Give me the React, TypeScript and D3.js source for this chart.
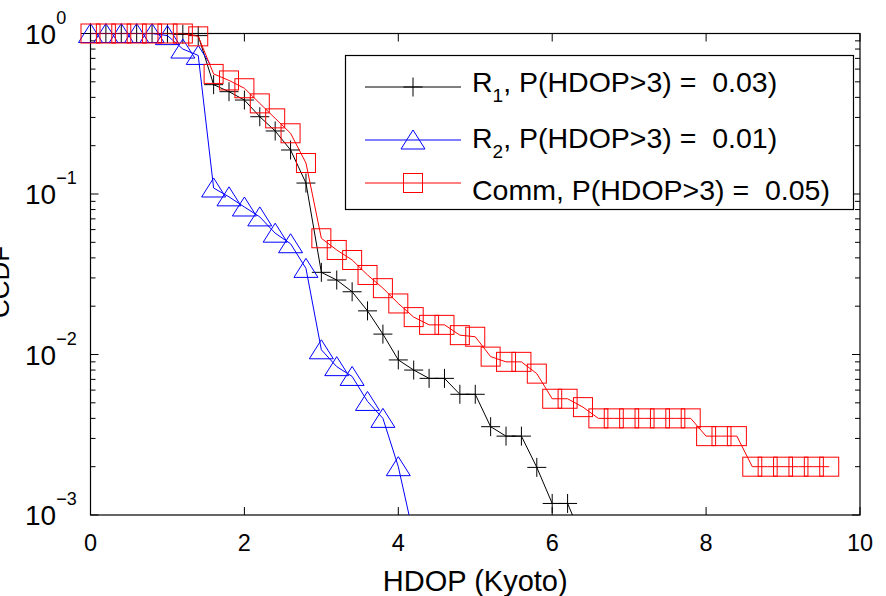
import React from 'react';
import * as d3 from 'd3';

const xR1 = [0, 0.2, 0.4, 0.6, 0.8, 1.0, 1.2, 1.4, 1.6, 1.8, 2.0, 2.2, 2.4, 2.6, 2.8, 3.0, 3.2, 3.4, 3.6, 3.8, 4.0, 4.2, 4.4, 4.6, 4.8, 5.0, 5.2, 5.4, 5.6, 5.8, 6.0, 6.2, 6.4];
const yR1 = [1, 1, 1, 1, 1, 1, 0.99, 0.97, 0.48, 0.434, 0.385, 0.303, 0.247, 0.188, 0.117, 0.0325, 0.0291, 0.0246, 0.0187, 0.0134, 0.00925, 0.008, 0.0071, 0.0071, 0.00565, 0.00565, 0.00355, 0.0031, 0.0031, 0.00198, 0.00118, 0.00118, 0.0007];

const xR2 = [0, 0.2, 0.4, 0.6, 0.8, 1.0, 1.2, 1.4, 1.6, 1.8, 2.0, 2.2, 2.4, 2.6, 2.8, 3.0, 3.2, 3.4, 3.6, 3.8, 4.0, 4.2];
const yR2 = [1, 1, 1, 1, 1, 0.97, 0.8, 0.73, 0.109, 0.096, 0.083, 0.072, 0.057, 0.049, 0.0344, 0.0107, 0.0084, 0.0073, 0.0051, 0.004, 0.002, 0.00074];

const xComm = [0, 0.2, 0.4, 0.6, 0.8, 1.0, 1.2, 1.4, 1.6, 1.8, 2.0, 2.2, 2.4, 2.6, 2.8, 3.0, 3.2, 3.4, 3.6, 3.8, 4.0, 4.2, 4.4, 4.6, 4.8, 5.0, 5.2, 5.4, 5.6, 5.8, 6.0, 6.2, 6.4, 6.6, 6.8, 7.0, 7.2, 7.4, 7.6, 7.8, 8.0, 8.2, 8.4, 8.6, 8.8, 9.0, 9.2, 9.4, 9.6];
const yComm = [1, 1, 1, 1, 1, 1, 1, 0.96, 0.56, 0.51, 0.456, 0.367, 0.296, 0.239, 0.156, 0.053, 0.0448, 0.0388, 0.0313, 0.0259, 0.0208, 0.0171, 0.0153, 0.0153, 0.0132, 0.0129, 0.0097, 0.009, 0.009, 0.0076, 0.0053, 0.0053, 0.0047, 0.004, 0.004, 0.004, 0.004, 0.004, 0.004, 0.004, 0.0031, 0.0031, 0.0031, 0.002, 0.002, 0.002, 0.002, 0.002, 0.002];

const xTicks = [0, 2, 4, 6, 8, 10];
const yTickExps = [0, -1, -2, -3];
const legendLabels = [
  { base: 'R', sub: '1', rest: ', P(HDOP>3) =  0.03)' },
  { base: 'R', sub: '2', rest: ', P(HDOP>3) =  0.01)' },
  { base: 'Comm', sub: '', rest: ', P(HDOP>3) =  0.05)' },
];
const xTitle = 'HDOP (Kyoto)';
const yTitle = 'CCDF';

const W = 886, H = 596;
const L = 90.5, R = 860, T = 33.5, B = 515;
const FONT = '"Liberation Sans", Arial, sans-serif';

type Kind = 'plus' | 'tri' | 'sq';

function Marker({ kind, cx, cy, color }: { kind: Kind; cx: number; cy: number; color: string }) {
  if (kind === 'plus') {
    return <path d={`M${cx - 9.5},${cy}H${cx + 9.5}M${cx},${cy - 9.5}V${cy + 9.5}`} stroke={color} strokeWidth={1} fill="none" />;
  }
  if (kind === 'tri') {
    return <path d={`M${cx},${cy - 10}L${cx + 12},${cy + 9}L${cx - 12},${cy + 9}Z`} stroke={color} strokeWidth={1} fill="none" />;
  }
  return <rect x={cx - 9.5} y={cy - 9.5} width={19} height={19} stroke={color} strokeWidth={1} fill="none" />;
}

export default function App() {
  const x = d3.scaleLinear().domain([0, 10]).range([L, R]);
  const y = d3.scaleLog().domain([1e-3, 1]).range([B, T]);
  const line = d3.line<[number, number]>().x(d => x(d[0])).y(d => y(d[1]));

  const series = [
    { xs: xR1, ys: yR1, color: '#000000', kind: 'plus' as Kind },
    { xs: xR2, ys: yR2, color: '#0000ff', kind: 'tri' as Kind },
    { xs: xComm, ys: yComm, color: '#ff0000', kind: 'sq' as Kind },
  ];

  const minor: number[] = [];
  for (let e = -3; e < 0; e++) for (let k = 2; k <= 9; k++) minor.push(k * Math.pow(10, e));

  const legendRows = [87, 140, 183];
  const legendTextY = [91.5, 147.5, 199.5];

  return (
    <svg width={W} height={H} style={{ position: 'absolute', left: 0, top: 0 }} fontFamily={FONT}>
      <rect x={0} y={0} width={W} height={H} fill="#fff" />
      <defs>
        <clipPath id="plotclip">
          <rect x={L} y={T} width={R - L} height={B - T} />
        </clipPath>
      </defs>

      {/* axes box */}
      <rect x={L} y={T} width={R - L} height={B - T} fill="none" stroke="#000" strokeWidth={1.2} />
      {xTicks.map(t => (
        <g key={'xt' + t}>
          <line x1={x(t)} x2={x(t)} y1={B} y2={B - 8} stroke="#000" />
          <line x1={x(t)} x2={x(t)} y1={T} y2={T + 8} stroke="#000" />
          <text x={x(t)} y={551} fontSize={23.5} textAnchor="middle" fill="#000">{t}</text>
        </g>
      ))}
      {yTickExps.map(e => (
        <g key={'yt' + e}>
          <line x1={L} x2={L + 8} y1={y(Math.pow(10, e))} y2={y(Math.pow(10, e))} stroke="#000" />
          <line x1={R} x2={R - 8} y1={y(Math.pow(10, e))} y2={y(Math.pow(10, e))} stroke="#000" />
          <text x={25} y={y(Math.pow(10, e)) + 10} fontSize={28} fill="#000">
            10
            <tspan dy={-20} fontSize={18}>{e === 0 ? '0' : '\u2212' + Math.abs(e)}</tspan>
          </text>
        </g>
      ))}
      {minor.map(v => (
        <g key={'m' + v}>
          <line x1={L} x2={L + 5} y1={y(v)} y2={y(v)} stroke="#000" />
          <line x1={R} x2={R - 5} y1={y(v)} y2={y(v)} stroke="#000" />
        </g>
      ))}

      {/* series */}
      {series.map((s, i) => {
        const pts: [number, number][] = s.xs.map((xv, j) => [xv, s.ys[j]]);
        return (
          <g key={'s' + i}>
            <path d={line(pts) || ''} stroke={s.color} strokeWidth={1} fill="none" clipPath="url(#plotclip)" />
            {pts.filter(p => p[1] >= 1e-3).map((p, j) => (
              <Marker key={j} kind={s.kind} cx={x(p[0])} cy={y(p[1])} color={s.color} />
            ))}
          </g>
        );
      })}

      {/* legend */}
      <rect x={345.5} y={55.5} width={508} height={154} fill="#fff" stroke="#000" strokeWidth={1.2} />
      {series.map((s, i) => (
        <g key={'lg' + i}>
          <line x1={365} x2={461} y1={legendRows[i]} y2={legendRows[i]} stroke={s.color} />
          <Marker kind={s.kind} cx={413} cy={legendRows[i]} color={s.color} />
          <text x={472} y={legendTextY[i]} fontSize={28.5} fill="#000">
            {legendLabels[i].base}
            {legendLabels[i].sub ? <tspan dy={10} fontSize={19}>{legendLabels[i].sub}</tspan> : null}
            <tspan dy={legendLabels[i].sub ? -10 : 0} style={{ whiteSpace: 'pre' }}>{legendLabels[i].rest}</tspan>
          </text>
        </g>
      ))}

      {/* titles */}
      <text x={(L + R) / 2} y={591} fontSize={29} textAnchor="middle" fill="#000">{xTitle}</text>
      <text transform="translate(9,282) rotate(-90)" fontSize={26} textAnchor="middle" fill="#000">{yTitle}</text>
    </svg>
  );
}
